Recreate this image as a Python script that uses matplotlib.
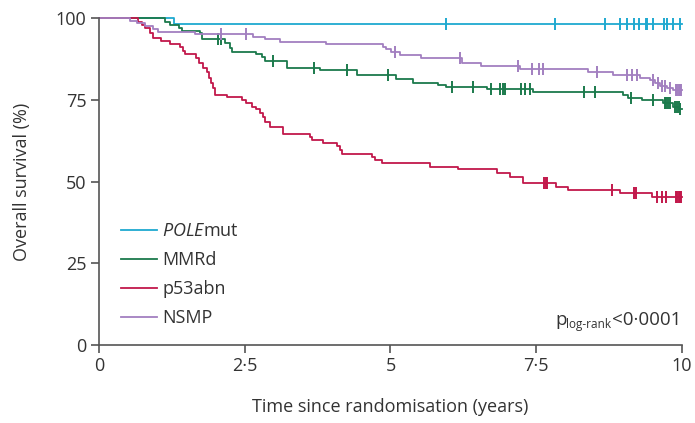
import numpy as np
import matplotlib
matplotlib.use("Agg")
import matplotlib.pyplot as plt

plt.rcParams['font.family'] = ['Open Sans', 'DejaVu Sans']
plt.rcParams['mathtext.fontset'] = 'custom'
plt.rcParams['mathtext.rm'] = 'Open Sans'
plt.rcParams['mathtext.it'] = 'Open Sans:italic'

#--- curves (step times in years, survival in %) ---#
pole_t = [0, 1.29]
pole_s = [100, 98.1]
pole_cens = [5.95, 7.83, 8.68, 8.93, 9.05, 9.17, 9.27, 9.38, 9.40, 9.50, 9.69, 9.74, 9.84, 9.97]

mmrd_t = [0, 1.13, 1.22, 1.38, 1.42, 1.73, 1.77, 2.16, 2.25, 2.29, 2.70, 2.79, 2.85, 3.22,
          3.79, 4.42, 5.10, 5.39, 5.82, 5.96, 6.65, 7.45, 8.99, 9.08, 9.31, 9.68, 9.85, 9.95]
mmrd_s = [100, 98.7, 97.9, 97.0, 96.1, 95.3, 93.5, 92.5, 90.7, 89.7, 88.9, 88.0, 86.9, 84.8,
          84.0, 82.6, 81.3, 80.2, 79.5, 78.8, 78.2, 77.3, 76.5, 75.6, 74.9, 73.9, 72.9, 72.3]
mmrd_cens = [2.05, 2.10, 2.98, 3.68, 4.25, 4.95, 6.05, 6.41, 6.72, 6.87, 6.93, 6.97, 7.24, 7.31,
             7.40, 8.32, 8.51, 9.13, 9.51, 9.70, 9.73, 9.76, 9.79, 9.88, 9.91, 9.94, 9.97]

p53_t = [0, 0.67, 0.73, 0.79, 0.87, 0.93, 1.07, 1.22, 1.39, 1.44, 1.48, 1.66, 1.72, 1.79, 1.85,
         1.88, 1.92, 1.96, 1.99, 2.19, 2.45, 2.53, 2.62, 2.69, 2.76, 2.81, 2.85, 2.93, 3.15,
         3.62, 3.66, 3.85, 4.08, 4.13, 4.17, 4.68, 4.74, 4.85, 5.68, 6.16, 6.82, 7.05, 7.28,
         7.84, 8.05, 8.94, 9.48]
p53_s = [100, 98.9, 97.9, 96.8, 95.3, 93.8, 93.0, 92.0, 91.2, 89.9, 88.9, 87.7, 86.1, 84.8, 83.6,
         81.6, 80.0, 78.5, 76.5, 75.9, 74.9, 73.9, 72.9, 72.1, 70.9, 69.7, 68.3, 66.8, 64.5,
         63.5, 62.7, 61.7, 60.9, 59.6, 58.4, 57.6, 56.6, 55.8, 54.5, 53.7, 52.5, 51.5, 49.6,
         48.4, 47.4, 46.4, 45.4]
p53_cens = [7.63, 7.66, 7.68, 8.80, 9.17, 9.21, 9.57, 9.65, 9.72, 9.90, 9.92, 9.94, 9.96, 9.98]

nsmp_t = [0, 0.53, 0.65, 0.79, 0.93, 1.02, 1.65, 2.65, 2.85, 3.10, 3.90, 4.88, 4.93, 5.01, 5.16,
          5.53, 6.22, 6.56, 7.22, 8.39, 8.82, 9.28, 9.45, 9.54, 9.62, 9.74, 9.85]
nsmp_s = [100, 99.2, 98.5, 97.6, 96.6, 95.8, 95.1, 94.3, 93.5, 92.8, 92.0, 91.2, 90.5, 89.7, 88.7,
          87.7, 86.3, 85.3, 84.4, 83.6, 82.6, 81.6, 81.0, 80.0, 79.2, 78.5, 78.0]
nsmp_cens = [2.10, 2.53, 5.07, 6.19, 7.19, 7.42, 7.55, 7.62, 8.55, 9.05, 9.14, 9.23, 9.50, 9.58,
             9.66, 9.70, 9.80, 9.90, 9.92, 9.94, 9.96, 9.98]

groups = ['$\\it{POLE}$mut', 'MMRd', 'p53abn', 'NSMP']
colors = ['#1fa9d0', '#1b7a4c', '#c2184b', '#a27fc0']
curves = [(pole_t, pole_s, pole_cens), (mmrd_t, mmrd_s, mmrd_cens),
          (p53_t, p53_s, p53_cens), (nsmp_t, nsmp_s, nsmp_cens)]


def surv_at(t, s, when):
    idx = np.searchsorted(t, when, side='right') - 1
    return np.asarray(s)[idx]


fig = plt.figure(figsize=(6.95, 4.23), dpi=100)
ax = fig.add_axes([0.1424, 0.1844, 0.8389, 0.7730])

for (t, s, cens), col, lab in zip(curves, colors, groups):
    tt = list(t) + [10]
    ss = list(s) + [s[-1]]
    ax.step(tt, ss, where='post', color=col, lw=1.3, label=lab, clip_on=False)
    ax.plot(cens, surv_at(t, s, cens), linestyle='none', marker='|', ms=9, mew=1.4,
            color=col, clip_on=False)

ax.set_xlim(0, 10)
ax.set_ylim(0, 100)
ax.set_xticks([0, 2.5, 5, 7.5, 10])
ax.set_xticklabels(['0', '2·5', '5', '7·5', '10'])
ax.set_yticks([0, 25, 50, 75, 100])
ax.spines['top'].set_visible(False)
ax.spines['right'].set_visible(False)
for sp in ['left', 'bottom']:
    ax.spines[sp].set_color('#555555')
    ax.spines[sp].set_linewidth(1.2)
ax.tick_params(direction='out', length=6, width=1.2, color='#555555',
               labelsize=13, labelcolor='#333333', pad=3)
ax.set_xlabel('Time since randomisation (years)', fontsize=13, color='#333333', labelpad=16)
ax.set_ylabel('Overall survival (%)', fontsize=13, color='#333333', labelpad=18)

leg = ax.legend(loc='lower left', bbox_to_anchor=(0.025, 0.033), frameon=False, fontsize=13,
                handlelength=2.0, handletextpad=0.3, labelspacing=0.6, borderaxespad=0)
for txt in leg.get_texts():
    txt.set_color('#333333')

# p value with a small subscript
t1 = ax.text(0.782, 0.06, 'p', transform=ax.transAxes, fontsize=13.5, color='#333333',
             va='baseline')
t2 = ax.annotate('log-rank', xy=(1, 0), xycoords=t1, xytext=(0, 1), textcoords='offset points',
                 fontsize=8.5, color='#333333', va='baseline')
ax.annotate('<0·0001', xy=(1, 0), xycoords=(t2, t1), fontsize=13.5, color='#333333',
            va='bottom')

fig.savefig('out.png', dpi=100)
